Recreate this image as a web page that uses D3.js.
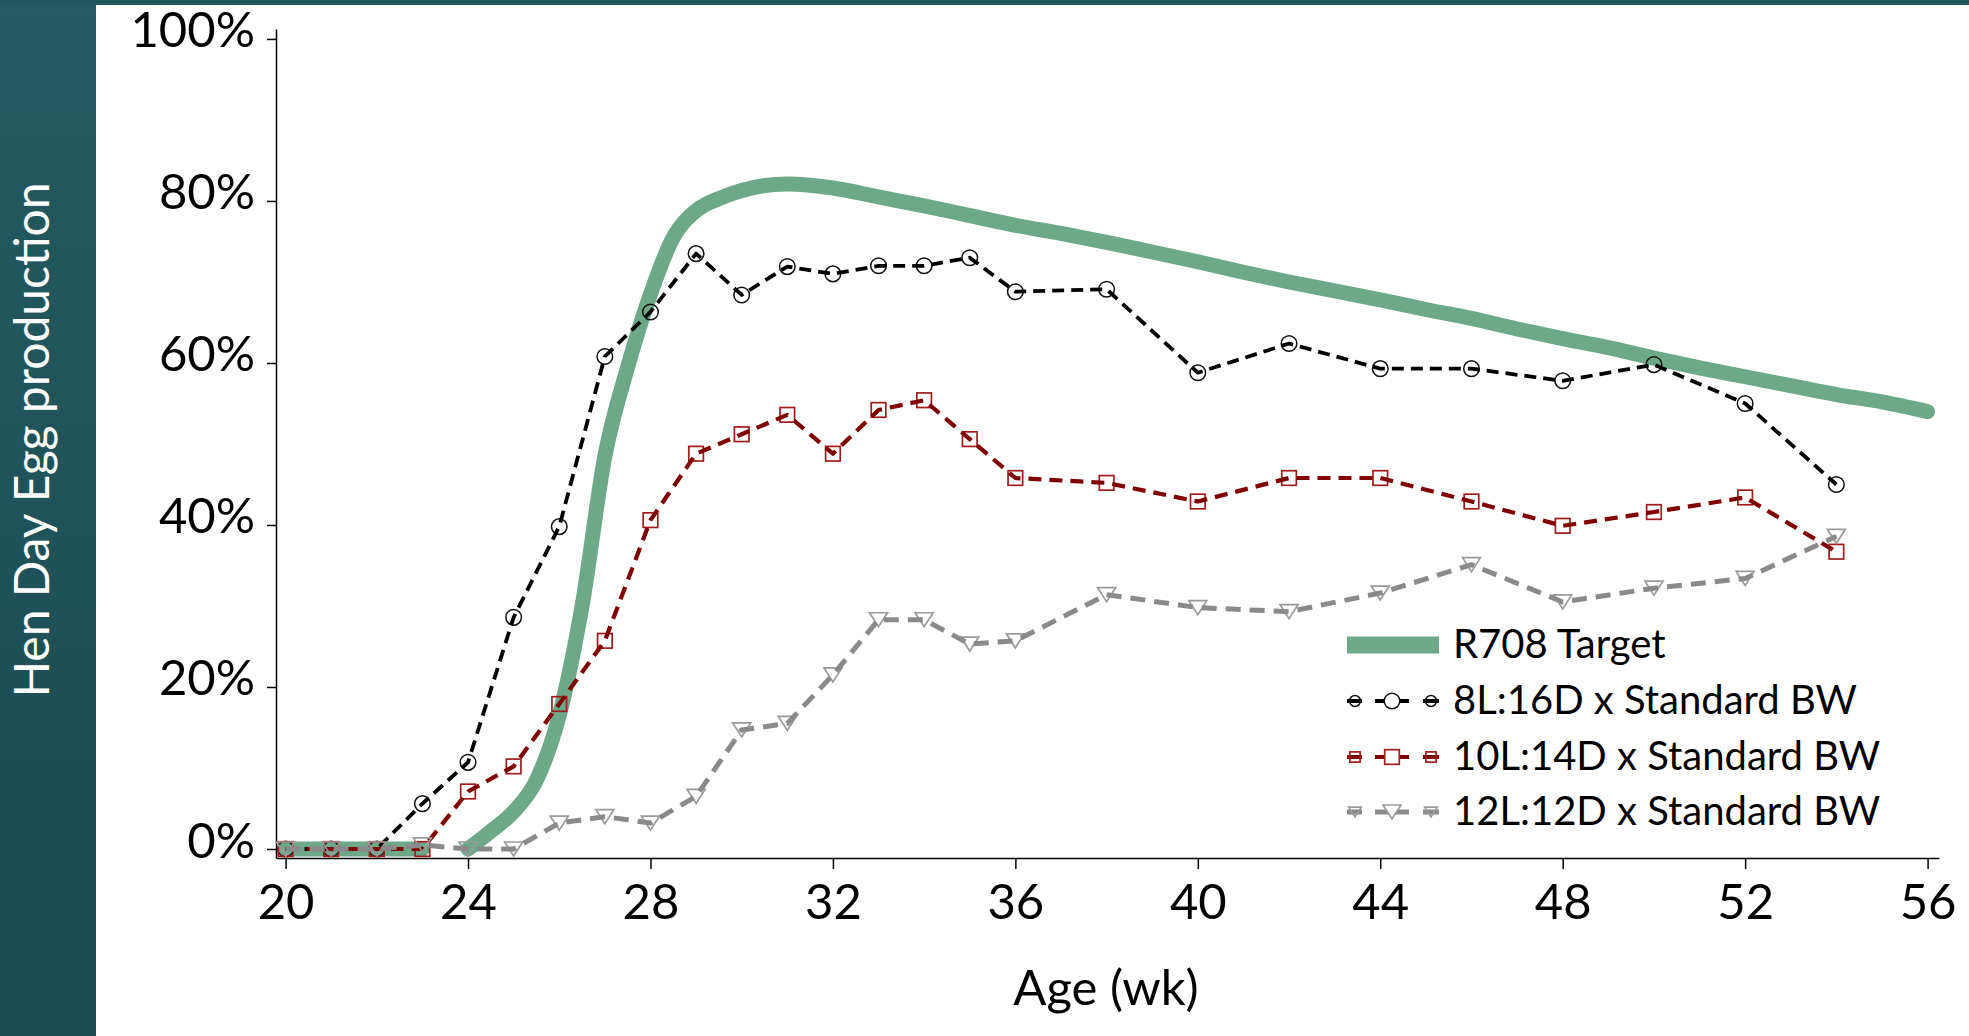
<!DOCTYPE html>
<html><head><meta charset="utf-8">
<script src="https://cdn.jsdelivr.net/npm/d3@7"></script>
<style>
html,body{margin:0;padding:0;background:#fff;overflow:hidden;}
svg{display:block;}
text{font-family:Lato,"Open Sans",sans-serif;}
</style></head><body>
<svg id="chart" width="1969" height="1036"></svg>
<script>
// ---------- data ----------
const weeks = [20,21,22,23,24,25,26,27,28,29,30,31,32,33,34,35,36,38,40,42,44,46,48,50,52,54];
const series8L  = [0,0,0,5.6,10.7,28.6,39.8,60.8,66.3,73.5,68.4,71.9,71.0,72.0,72.0,73.0,68.8,69.1,58.8,62.4,59.3,59.3,57.8,59.8,55.0,45.0];
const series10L = [0,0,0,0,7.1,10.2,17.9,25.7,40.6,48.8,51.2,53.6,48.8,54.2,55.4,50.6,45.8,45.2,42.9,45.8,45.8,42.9,39.9,41.6,43.4,36.7];
const series12L = [0,0,0,0.5,0,0,3.2,4.0,3.2,6.5,14.7,15.5,21.5,28.3,28.3,25.3,25.7,31.4,29.8,29.3,31.6,35.1,30.5,32.2,33.4,38.6];
const targetWeeks  = [20,21,22,23,23.5,24,24.5,25,25.5,26,26.5,27,27.5,28,28.5,29,29.5,30,31,32,33,34,35,36,37,38,39,40,41,42,43,44,45,46,47,48,49,50,51,52,53,54,55,56];
const targetValues = [0,0,0,0,null,0,2.2,4.6,8.5,16.5,30,48.5,59.5,68.5,75.5,78.8,80.3,81.3,82.1,81.6,80.5,79.4,78.2,77.0,76.0,74.9,73.7,72.5,71.2,70.0,68.9,67.8,66.6,65.5,64.2,63.0,61.9,60.6,59.4,58.3,57.2,56.1,55.2,54.0];
const xTicks = [20,24,28,32,36,40,44,48,52,56];
const yTicks = [0,20,40,60,80,100];
const legendLabels = ["R708 Target","8L:16D x Standard BW","10L:14D x Standard BW","12L:12D x Standard BW"];
const yTitle = "Hen Day Egg production";
const xTitle = "Age (wk)";

// ---------- styles ----------
const GREEN = "#6da888";
const seriesDefs = [
  {vals: series8L,  line:"#000000", mark:"#111111", width:3.8, dash:"12,7",  shape:"circle"},
  {vals: series10L, line:"#800000", mark:"#a01c1c", width:4.2, dash:"13,8",  shape:"square"},
  {vals: series12L, line:"#8a8a8a", mark:"#9a9a9a", width:5,   dash:"15,9",  shape:"tri"}
];

const svg = d3.select("#chart");
const defs = svg.append("defs");
const grad = defs.append("linearGradient").attr("id","panel").attr("x1",0).attr("y1",0).attr("x2",0).attr("y2",1);
grad.append("stop").attr("offset","0%").attr("stop-color","#245a61");
grad.append("stop").attr("offset","100%").attr("stop-color","#1c4a51");
svg.append("rect").attr("x",0).attr("y",0).attr("width",96).attr("height",1036).attr("fill","url(#panel)");
svg.append("rect").attr("x",0).attr("y",0).attr("width",1969).attr("height",5).attr("fill","#23575e");

// ---------- scales ----------
const x = d3.scaleLinear().domain([19.79, 56.25]).range([276, 1939]);
const y = d3.scaleLinear().domain([-1.11, 101.23]).range([858, 29]);

// ---------- axes ----------
const gy = svg.append("g").attr("transform","translate(276,0)")
  .call(d3.axisLeft(y).tickValues(yTicks).tickSize(9).tickSizeOuter(0).tickPadding(12).tickFormat(d => d + "%"));
const gx = svg.append("g").attr("transform","translate(0,858)")
  .call(d3.axisBottom(x).tickValues(xTicks).tickSize(11).tickSizeOuter(0));
[gx, gy].forEach(g => {
  g.select(".domain").attr("stroke","#000").attr("stroke-width",1.5);
  g.selectAll(".tick line").attr("stroke","#000").attr("stroke-width",1.5);
  g.selectAll(".tick text").attr("fill","#000").style("font-size","49px").style("font-family","Lato, 'Open Sans', sans-serif");
});
gy.selectAll(".tick text").attr("dy", 8);
gx.selectAll(".tick text").attr("y", 61).attr("dy", 0);

svg.append("text").attr("x",1106).attr("y",1005).attr("text-anchor","middle")
  .style("font-size","49px").attr("fill","#000").text(xTitle);
svg.append("text").attr("transform","translate(49,440) rotate(-90)").attr("text-anchor","middle")
  .style("font-size","48px").attr("fill","#ffffff").text(yTitle);

// ---------- target line ----------
const tData = targetWeeks.map((w,i) => ({w, v: targetValues[i]}));
svg.append("path").datum(tData)
  .attr("d", d3.line().defined(d => d.v !== null).x(d => x(d.w)).y(d => y(d.v)).curve(d3.curveMonotoneX))
  .attr("fill","none").attr("stroke",GREEN).attr("stroke-width",15).attr("stroke-linecap","round").attr("stroke-linejoin","round");

// ---------- marker helper ----------
function drawMarker(g, shape, cx, cy, color, s, fill) {
  s = s || 1;
  if (shape === "circle") {
    g.append("circle").attr("cx",cx).attr("cy",cy).attr("r",7.8*s)
      .attr("fill",fill||"none").attr("stroke",color).attr("stroke-width",1.5);
  } else if (shape === "square") {
    const h = 7.3*s;
    g.append("rect").attr("x",cx-h).attr("y",cy-h).attr("width",2*h).attr("height",2*h)
      .attr("fill",fill||"none").attr("stroke",color).attr("stroke-width",1.7);
  } else {
    const w = 9*s, h = 7*s;
    g.append("path").attr("d",`M${cx-w},${cy-h}L${cx+w},${cy-h}L${cx},${cy+h}Z`)
      .attr("fill",fill||"none").attr("stroke",color).attr("stroke-width",1.7);
  }
}

// ---------- series ----------
seriesDefs.forEach(sd => {
  const g = svg.append("g");
  weeks.forEach((w,i) => drawMarker(g, sd.shape, x(w), y(sd.vals[i]), sd.mark));
  const data = weeks.map((w,i) => ({w, v: sd.vals[i]}));
  g.append("path").datum(data)
    .attr("d", d3.line().x(d => x(d.w)).y(d => y(d.v)))
    .attr("fill","none").attr("stroke",sd.line).attr("stroke-width",sd.width)
    .attr("stroke-dasharray",sd.dash).attr("stroke-linejoin","round");
});

// ---------- legend ----------
const baselines = [658,714,770,825];
const lg = svg.append("g");
legendLabels.forEach((lab,i) => {
  const cy = baselines[i] - 13;
  if (i === 0) {
    lg.append("rect").attr("x",1347).attr("y",cy-8.5).attr("width",92).attr("height",17).attr("fill",GREEN);
  } else {
    const sd = seriesDefs[i-1];
    lg.append("line").attr("x1",1347).attr("x2",1439).attr("y1",cy).attr("y2",cy)
      .attr("stroke",sd.line).attr("stroke-width",sd.width).attr("stroke-dasharray","15,13,34,14,16");
    drawMarker(lg, sd.shape, 1355, cy, sd.mark, 0.7);
    drawMarker(lg, sd.shape, 1431, cy, sd.mark, 0.7);
    drawMarker(lg, sd.shape, 1392, cy, sd.mark, 1, "#fff");
  }
  lg.append("text").attr("x",1453).attr("y",baselines[i]).style("font-size","40px").attr("fill","#000").text(lab);
});
</script>
</body></html>
